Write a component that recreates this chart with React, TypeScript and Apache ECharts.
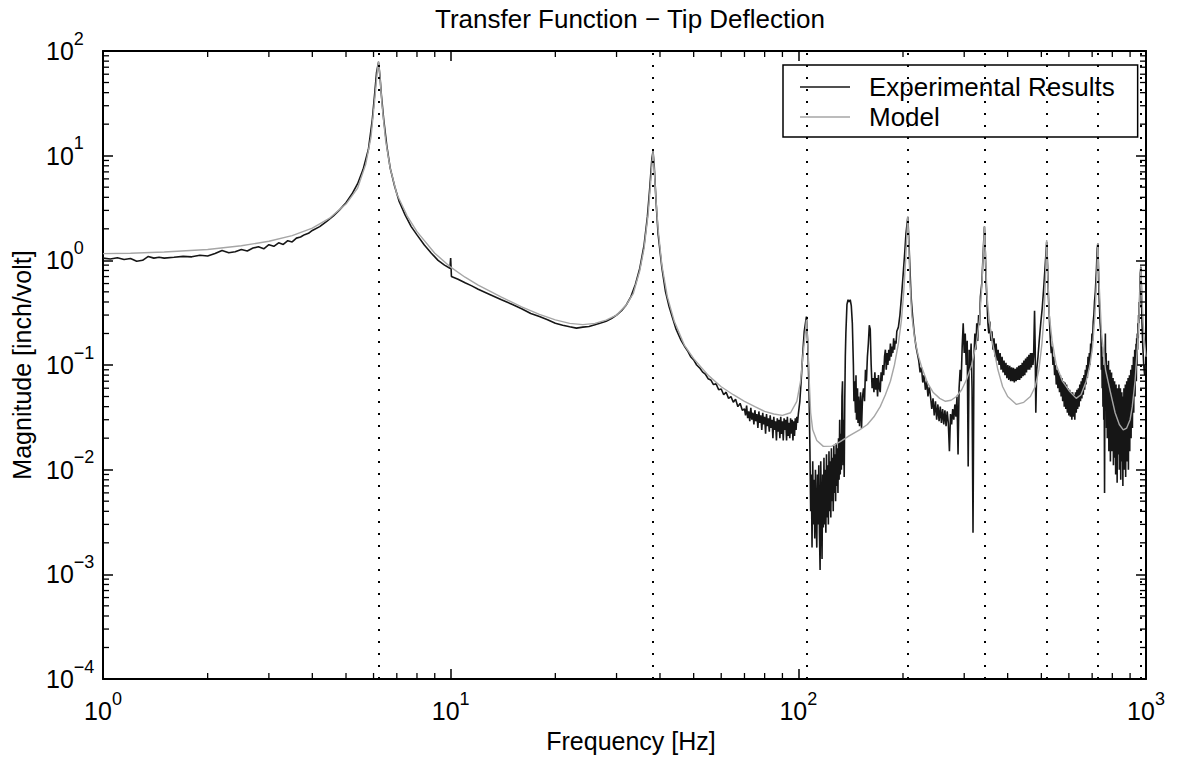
import React, { useEffect, useRef } from 'react';
import * as echarts from 'echarts';

const TITLE = 'Transfer Function \u2212 Tip Deflection';
const X_NAME = 'Frequency [Hz]';
const Y_NAME = 'Magnitude [inch/volt]';
const SERIES_NAMES = ['Experimental Results', 'Model'];

// axis decades (tick labels are 10^exponent)
const X_TICK_VALUES = [1, 10, 100, 1000];
const Y_TICK_VALUES = [1e-4, 1e-3, 1e-2, 1e-1, 1, 10, 100];
const MINOR_MULTIPLIERS = [2, 3, 4, 5, 6, 7, 8, 9];

// resonance markers (dotted vertical lines), Hz
const RESONANCES = [6.2, 38.2, 105.5, 206.5, 343, 518, 727, 967];

// Experimental results: [frequency Hz, magnitude inch/volt]
const EXP_1_TO_10: [number, number][] = [
  [1.0, 1.05], [1.05, 1.03], [1.1, 1.06], [1.15, 1.02], [1.2, 1.04], [1.25, 0.98], [1.3, 1.0], [1.35, 1.09],
  [1.4, 1.05], [1.45, 1.07], [1.5, 1.05], [1.6, 1.07], [1.7, 1.09], [1.8, 1.08], [1.9, 1.12], [2.0, 1.1],
  [2.1, 1.16], [2.2, 1.24], [2.3, 1.18], [2.4, 1.21], [2.5, 1.27], [2.6, 1.23], [2.7, 1.31], [2.8, 1.35],
  [2.9, 1.29], [3.0, 1.41], [3.1, 1.36], [3.2, 1.47], [3.3, 1.42], [3.4, 1.54], [3.5, 1.5], [3.6, 1.63],
  [3.7, 1.67], [3.8, 1.76], [3.9, 1.81], [4.0, 1.93], [4.2, 2.1], [4.4, 2.36], [4.6, 2.66], [4.8, 3.05],
  [5.0, 3.55], [5.2, 4.3], [5.4, 5.4], [5.6, 7.4], [5.8, 11.5], [5.95, 22], [6.05, 40], [6.12, 62],
  [6.2, 78], [6.26, 58], [6.32, 38], [6.42, 22], [6.55, 12.5], [6.7, 7.6], [6.9, 5.1], [7.1, 3.7],
  [7.4, 2.7], [7.7, 2.1], [8.0, 1.75], [8.4, 1.4], [8.8, 1.17], [9.2, 1.0], [9.6, 0.9], [9.95, 0.84],
];
const EXP_10_TO_100: [number, number][] = [
  [10.0, 1.05], [10.05, 0.7], [10.5, 0.66], [11.0, 0.61], [11.5, 0.57], [12.0, 0.53], [13.0, 0.47], [14.0, 0.42],
  [15.0, 0.38], [16.0, 0.345], [17.0, 0.31], [18.0, 0.29], [19.0, 0.27], [20.0, 0.25], [21.0, 0.24], [22.0, 0.232],
  [23.0, 0.225], [24.0, 0.23], [25.0, 0.233], [26.0, 0.242], [27.0, 0.252], [28.0, 0.262], [29.0, 0.278], [30.0, 0.3],
  [31.0, 0.33], [32.0, 0.375], [33.0, 0.45], [34.0, 0.59], [35.0, 0.84], [36.0, 1.4], [36.8, 2.6], [37.4, 5.0],
  [37.9, 9.3], [38.2, 11.0], [38.5, 8.0], [39.0, 3.5], [39.5, 1.8], [40.5, 0.85], [41.5, 0.5], [42.5, 0.36],
  [43.5, 0.28], [44.5, 0.22], [46.0, 0.172], [47.0, 0.152], [48.0, 0.137], [49.0, 0.12], [50.0, 0.112], [51.0, 0.1],
  [52.0, 0.094], [53.0, 0.086], [54.0, 0.082], [55.0, 0.074], [56.0, 0.072], [57.0, 0.065], [58.0, 0.066], [59.0, 0.058],
  [60.0, 0.059], [61.0, 0.052], [62.0, 0.055], [63.0, 0.048], [64.0, 0.05], [65.0, 0.044], [66.0, 0.047], [67.0, 0.04],
  [68.0, 0.043], [69.0, 0.037], [70.0, 0.038], [70.5, 0.033], [71.0, 0.041], [71.5, 0.031], [72.0, 0.036], [72.5, 0.029],
  [73.0, 0.039], [73.5, 0.03], [74.0, 0.035], [74.5, 0.027], [75.0, 0.037], [75.5, 0.029], [76.0, 0.034], [76.5, 0.025],
  [77.0, 0.036], [77.5, 0.028], [78.0, 0.033], [78.5, 0.024], [79.0, 0.035], [79.5, 0.027], [80.0, 0.032], [80.5, 0.022],
  [81.0, 0.034], [81.5, 0.026], [82.0, 0.031], [82.5, 0.023], [83.0, 0.033], [83.5, 0.025], [84.0, 0.03], [84.5, 0.02],
  [85.0, 0.032], [85.5, 0.024], [86.0, 0.029], [86.5, 0.019], [87.0, 0.031], [87.5, 0.023], [88.0, 0.03], [88.5, 0.02],
  [89.0, 0.032], [89.5, 0.022], [90.0, 0.029], [90.5, 0.019], [91.0, 0.031], [91.5, 0.024], [92.0, 0.03], [92.5, 0.019],
  [93.0, 0.032], [93.5, 0.021], [94.0, 0.028], [94.5, 0.02], [95.0, 0.031], [95.5, 0.022], [96.0, 0.03], [96.5, 0.019],
  [97.0, 0.029], [97.5, 0.021], [98.0, 0.031], [98.5, 0.024], [99.0, 0.032], [99.5, 0.028],
];
const EXP_100_TO_206: [number, number][] = [
  [100.0, 0.034], [101.0, 0.045], [102.0, 0.075], [103.0, 0.13], [104.0, 0.21], [105.5, 0.29], [106.5, 0.15], [107.3, 0.06],
  [108.0, 0.015], [108.5, 0.004], [109.0, 0.009], [109.5, 0.0018], [110.0, 0.012], [110.5, 0.003], [111.0, 0.008], [111.5, 0.0022],
  [112.0, 0.01], [112.5, 0.0035], [113.0, 0.0018], [113.5, 0.009], [114.0, 0.003], [114.5, 0.011], [115.0, 0.0025], [115.5, 0.0011],
  [116.0, 0.012], [116.5, 0.004], [117.0, 0.0014], [117.5, 0.009], [118.0, 0.0028], [118.5, 0.013], [119.0, 0.003], [119.5, 0.01],
  [120.0, 0.0025], [120.5, 0.014], [121.0, 0.0035], [121.5, 0.011], [122.0, 0.003], [122.5, 0.015], [123.0, 0.004], [123.5, 0.012],
  [124.0, 0.0035], [124.5, 0.016], [125.0, 0.005], [125.5, 0.013], [126.0, 0.004], [126.5, 0.017], [127.0, 0.006], [127.5, 0.014],
  [128.0, 0.005], [128.5, 0.018], [129.0, 0.007], [129.5, 0.016], [130.0, 0.006], [130.5, 0.02], [131.0, 0.008], [131.5, 0.03],
  [132.0, 0.009], [132.5, 0.022], [133.0, 0.01], [133.5, 0.05], [134.0, 0.07], [134.5, 0.011], [135.0, 0.03], [135.5, 0.0085],
  [136.0, 0.045], [136.5, 0.12], [137.0, 0.2], [138.0, 0.38], [139.0, 0.42], [140.0, 0.4], [141.0, 0.42], [142.0, 0.37],
  [143.0, 0.25], [144.0, 0.1], [144.5, 0.045], [145.0, 0.07], [146.0, 0.035], [146.5, 0.08], [147.0, 0.03], [148.0, 0.06],
  [148.5, 0.028], [149.0, 0.05], [150.0, 0.026], [151.0, 0.055], [152.0, 0.025], [153.0, 0.05], [154.0, 0.06], [155.0, 0.045],
  [156.0, 0.09], [157.0, 0.07], [158.0, 0.12], [159.0, 0.16], [160.0, 0.24], [161.0, 0.22], [162.0, 0.1], [163.0, 0.06],
  [164.0, 0.075], [165.0, 0.055], [166.0, 0.085], [167.0, 0.058], [168.0, 0.075], [169.0, 0.05], [170.0, 0.08], [171.0, 0.06],
  [172.0, 0.055], [173.0, 0.085], [174.0, 0.07], [175.0, 0.1], [176.0, 0.08], [177.0, 0.12], [178.0, 0.14], [179.0, 0.09],
  [180.0, 0.13], [181.0, 0.1], [182.0, 0.14], [183.0, 0.11], [184.0, 0.16], [185.0, 0.12], [186.0, 0.15], [187.0, 0.13],
  [188.0, 0.18], [189.0, 0.14], [190.0, 0.17], [191.0, 0.16], [192.0, 0.21], [194.0, 0.23], [196.0, 0.3], [198.0, 0.45],
  [200.0, 0.7], [202.0, 1.1], [204.0, 1.8],
];
const EXP_206_TO_518: [number, number][] = [
  [206.5, 2.6], [208.0, 1.5], [209.5, 0.8], [211.0, 0.45], [213.0, 0.3], [215.5, 0.2], [218.0, 0.15], [222.0, 0.11],
  [224.0, 0.085], [226.0, 0.095], [228.0, 0.068], [230.0, 0.08], [232.0, 0.058], [234.0, 0.07], [236.0, 0.05], [238.0, 0.062],
  [240.0, 0.05], [242.0, 0.038], [244.0, 0.048], [246.0, 0.033], [248.0, 0.045], [250.0, 0.03], [252.0, 0.042], [254.0, 0.029],
  [256.0, 0.04], [258.0, 0.028], [260.0, 0.038], [262.0, 0.027], [264.0, 0.037], [266.0, 0.026], [268.0, 0.036], [270.0, 0.028],
  [272.0, 0.015], [274.0, 0.034], [276.0, 0.027], [278.0, 0.038], [280.0, 0.03], [282.0, 0.042], [284.0, 0.032], [286.0, 0.05],
  [288.0, 0.014], [290.0, 0.06], [292.0, 0.09], [294.0, 0.07], [296.0, 0.15], [298.0, 0.25], [300.0, 0.13], [302.0, 0.2],
  [304.0, 0.1], [306.0, 0.17], [308.0, 0.0107], [310.0, 0.14], [312.0, 0.09], [314.0, 0.16], [316.0, 0.06], [318.0, 0.0025],
  [320.0, 0.12], [322.0, 0.2], [324.0, 0.14], [326.0, 0.25], [328.0, 0.17], [330.0, 0.3], [332.0, 0.24], [334.0, 0.45],
  [337.0, 0.6], [339.0, 0.9], [341.0, 1.4], [343.0, 2.1], [345.0, 1.2], [347.0, 0.6], [349.0, 0.4], [351.0, 0.25],
  [353.0, 0.2], [355.5, 0.26], [358.0, 0.17], [360.5, 0.21], [363.0, 0.14], [365.5, 0.18], [368.0, 0.12], [370.5, 0.16],
  [373.0, 0.11], [375.5, 0.14], [378.0, 0.1], [380.5, 0.13], [383.0, 0.09], [385.5, 0.12], [388.0, 0.085], [390.5, 0.11],
  [393.0, 0.08], [395.5, 0.105], [398.0, 0.075], [400.5, 0.1], [403.0, 0.072], [405.5, 0.098], [408.0, 0.07], [410.5, 0.095],
  [413.0, 0.07], [415.5, 0.094], [418.0, 0.068], [420.5, 0.092], [423.0, 0.07], [425.5, 0.095], [428.0, 0.072], [430.5, 0.098],
  [433.0, 0.072], [435.5, 0.1], [438.0, 0.075], [440.5, 0.105], [443.0, 0.078], [445.5, 0.11], [448.0, 0.08], [450.5, 0.115],
  [453.0, 0.085], [455.5, 0.12], [458.0, 0.09], [460.5, 0.125], [463.0, 0.09], [465.5, 0.13], [468.0, 0.095], [470.5, 0.13],
  [473.0, 0.1], [475.0, 0.12], [478.0, 0.33], [480.0, 0.15], [482.0, 0.035], [485.0, 0.09], [489.0, 0.12], [493.0, 0.17],
  [498.0, 0.25], [503.0, 0.35], [508.0, 0.55], [513.0, 0.9],
];
const EXP_518_TO_1000: [number, number][] = [
  [518.0, 1.5], [521.0, 0.9], [524.0, 0.45], [528.0, 0.25], [531.0, 0.17], [534.0, 0.13], [537.0, 0.15], [540.0, 0.1],
  [543.0, 0.12], [546.0, 0.08], [549.0, 0.1], [552.0, 0.065], [555.0, 0.09], [558.0, 0.06], [561.0, 0.085], [564.0, 0.055],
  [567.0, 0.08], [570.0, 0.05], [573.0, 0.075], [576.0, 0.045], [579.0, 0.07], [582.0, 0.04], [585.0, 0.068], [588.0, 0.038],
  [591.0, 0.065], [594.0, 0.035], [597.0, 0.06], [600.0, 0.033], [603.0, 0.058], [606.0, 0.032], [609.0, 0.055], [612.0, 0.03],
  [615.0, 0.055], [618.0, 0.032], [621.0, 0.052], [624.0, 0.03], [627.0, 0.055], [630.0, 0.035], [633.0, 0.058], [636.0, 0.038],
  [639.0, 0.06], [642.0, 0.04], [645.0, 0.065], [648.0, 0.045], [651.0, 0.07], [654.0, 0.048], [657.0, 0.075], [660.0, 0.052],
  [663.0, 0.08], [666.0, 0.058], [669.0, 0.09], [672.0, 0.065], [675.0, 0.1], [678.0, 0.075], [681.0, 0.12], [684.0, 0.09],
  [687.0, 0.13], [690.0, 0.1], [693.0, 0.16], [696.0, 0.13], [699.0, 0.2], [702.0, 0.17], [705.0, 0.26], [708.0, 0.3],
  [711.0, 0.4], [715.0, 0.5], [720.0, 0.8], [724.0, 1.3], [727.0, 1.45], [730.0, 0.8], [734.0, 0.4], [738.0, 0.25],
  [742.0, 0.2], [744.0, 0.09], [746.0, 0.15], [748.0, 0.06], [750.0, 0.12], [752.0, 0.04], [754.0, 0.1], [756.0, 0.03],
  [758.0, 0.08], [760.0, 0.006], [762.0, 0.09], [764.0, 0.2], [766.0, 0.05], [768.0, 0.13], [770.0, 0.025], [772.0, 0.1],
  [774.0, 0.02], [776.0, 0.08], [778.0, 0.035], [780.0, 0.11], [782.0, 0.015], [784.0, 0.08], [786.0, 0.03], [788.0, 0.09],
  [790.0, 0.012], [792.0, 0.07], [794.0, 0.025], [796.0, 0.085], [798.0, 0.015], [800.0, 0.06], [802.0, 0.02], [804.0, 0.075],
  [806.0, 0.011], [808.0, 0.055], [810.0, 0.018], [812.0, 0.07], [814.0, 0.013], [816.0, 0.05], [818.0, 0.009], [820.0, 0.065],
  [822.0, 0.016], [824.0, 0.045], [826.0, 0.0075], [828.0, 0.06], [830.0, 0.014], [832.0, 0.05], [834.0, 0.02], [836.0, 0.065],
  [838.0, 0.01], [840.0, 0.045], [842.0, 0.018], [844.0, 0.06], [846.0, 0.008], [848.0, 0.05], [850.0, 0.015], [852.0, 0.055],
  [854.0, 0.012], [856.0, 0.04], [858.0, 0.007], [860.0, 0.05], [862.0, 0.018], [864.0, 0.06], [866.0, 0.01], [868.0, 0.045],
  [870.0, 0.02], [872.0, 0.065], [874.0, 0.0085], [876.0, 0.05], [878.0, 0.016], [880.0, 0.07], [882.0, 0.012], [884.0, 0.055],
  [886.0, 0.022], [888.0, 0.075], [890.0, 0.01], [892.0, 0.06], [894.0, 0.025], [896.0, 0.08], [898.0, 0.015], [900.0, 0.065],
  [902.0, 0.03], [904.0, 0.09], [906.0, 0.02], [908.0, 0.07], [910.0, 0.035], [912.0, 0.1], [914.0, 0.025], [916.0, 0.08],
  [918.0, 0.045], [920.0, 0.12], [922.0, 0.035], [924.0, 0.1], [926.0, 0.06], [928.0, 0.14], [930.0, 0.05], [932.0, 0.12],
  [934.0, 0.08], [936.0, 0.16], [938.0, 0.07], [940.0, 0.18], [942.0, 0.1], [944.0, 0.2], [946.0, 0.14], [948.0, 0.25],
  [950.0, 0.18], [952.0, 0.3], [954.0, 0.25], [956.0, 0.4], [958.0, 0.35], [960.0, 0.55], [963.0, 0.75], [967.0, 0.87],
  [970.0, 0.5], [974.0, 0.25], [979.0, 0.15], [985.0, 0.1], [991.0, 0.08], [996.0, 0.1], [1000.0, 0.09],
];

// Model: [frequency Hz, magnitude inch/volt]
const MODEL: [number, number][] = [
  [1.0, 1.16], [1.2, 1.17], [1.5, 1.2], [2.0, 1.27], [2.5, 1.38], [3.0, 1.52], [3.5, 1.72], [4.0, 2.03],
  [4.5, 2.55], [5.0, 3.45], [5.4, 4.9], [5.7, 8.3], [5.9, 15], [6.05, 35], [6.15, 63], [6.2, 80],
  [6.25, 62], [6.35, 30], [6.5, 14], [6.7, 7.6], [7.0, 4.3], [7.5, 2.65], [8.0, 1.88], [9.0, 1.17],
  [10.0, 0.86], [11.0, 0.69], [12.0, 0.58], [14.0, 0.445], [16.0, 0.36], [18.0, 0.305], [20.0, 0.27], [22.0, 0.25],
  [24.0, 0.243], [26.0, 0.25], [28.0, 0.268], [30.0, 0.3], [32.0, 0.375], [33.5, 0.48], [35.0, 0.8], [36.0, 1.3],
  [37.0, 2.8], [37.6, 5.5], [38.0, 9.0], [38.2, 11.0], [38.5, 7.5], [39.0, 3.6], [39.5, 2.0], [40.5, 0.9],
  [42.0, 0.45], [44.0, 0.26], [47.0, 0.155], [50.0, 0.115], [55.0, 0.08], [60.0, 0.062], [65.0, 0.052], [70.0, 0.045],
  [75.0, 0.04], [80.0, 0.036], [85.0, 0.034], [90.0, 0.033], [95.0, 0.035], [99.0, 0.045], [101.5, 0.07], [103.0, 0.12],
  [104.5, 0.19], [105.5, 0.27], [106.5, 0.16], [107.5, 0.07], [108.5, 0.035], [110.0, 0.024], [113.0, 0.019], [118.0, 0.0167],
  [125.0, 0.0168], [132.0, 0.0185], [140.0, 0.021], [150.0, 0.024], [158.0, 0.027], [165.0, 0.032], [172.0, 0.04], [178.0, 0.052],
  [184.0, 0.07], [189.0, 0.1], [194.0, 0.16], [198.0, 0.27], [201.0, 0.5], [203.5, 1.0], [205.3, 1.8], [206.5, 2.6],
  [207.8, 1.5], [209.5, 0.6], [212.0, 0.3], [216.0, 0.18], [221.0, 0.125], [226.0, 0.097], [235.0, 0.068], [244.0, 0.055],
  [255.0, 0.048], [265.0, 0.045], [275.0, 0.046], [285.0, 0.05], [295.0, 0.058], [305.0, 0.073], [315.0, 0.1], [325.0, 0.16],
  [332.0, 0.27], [337.0, 0.55], [340.5, 1.2], [343.0, 2.1], [345.5, 1.1], [349.0, 0.45], [355.0, 0.25], [361.0, 0.17],
  [375.0, 0.09], [387.0, 0.062], [400.0, 0.05], [424.0, 0.042], [445.0, 0.044], [465.0, 0.05], [480.0, 0.062], [492.0, 0.09],
  [502.0, 0.16], [509.0, 0.3], [514.0, 0.7], [518.0, 1.56], [521.0, 0.8], [527.0, 0.3], [537.0, 0.17], [552.0, 0.1],
  [575.0, 0.07], [603.0, 0.056], [630.0, 0.048], [650.0, 0.052], [673.0, 0.07], [690.0, 0.1], [702.0, 0.15], [713.0, 0.3],
  [721.0, 0.65], [727.0, 1.46], [733.0, 0.6], [745.0, 0.2], [765.0, 0.09], [790.0, 0.055], [815.0, 0.035], [838.0, 0.027],
  [860.0, 0.024], [880.0, 0.025], [900.0, 0.03], [913.0, 0.04], [930.0, 0.07], [945.0, 0.15], [955.0, 0.3], [962.0, 0.6],
  [967.0, 0.86], [972.0, 0.5], [985.0, 0.2], [1000.0, 0.12],
];

const FONT = "'Liberation Sans', Arial, Helvetica, sans-serif";

function expLabel(v: number): string {
  const e = Math.round(Math.log10(v));
  return `{b|10}{s|${e < 0 ? '\u2212' + -e : e}}`;
}

export default function App() {
  const ref = useRef<HTMLDivElement>(null);

  useEffect(() => {
    if (!ref.current) return;
    const chart = echarts.init(ref.current, null, { renderer: 'svg' });

    const expData = [
      ...EXP_1_TO_10,
      ...EXP_10_TO_100,
      ...EXP_100_TO_206,
      ...EXP_206_TO_518,
      ...EXP_518_TO_1000,
    ];

    const xMin = X_TICK_VALUES[0];
    const xMax = X_TICK_VALUES[X_TICK_VALUES.length - 1];
    const yMin = Y_TICK_VALUES[0];
    const yMax = Y_TICK_VALUES[Y_TICK_VALUES.length - 1];

    const xMinor: number[] = [];
    X_TICK_VALUES.slice(0, -1).forEach((d) => MINOR_MULTIPLIERS.forEach((m) => xMinor.push(d * m)));
    const yMinor: number[] = [];
    Y_TICK_VALUES.slice(0, -1).forEach((d) => MINOR_MULTIPLIERS.forEach((m) => yMinor.push(d * m)));

    const rich = {
      b: { fontSize: 25, lineHeight: 43, fontFamily: FONT, color: '#000', verticalAlign: 'middle' },
      s: { fontSize: 18, lineHeight: 18, fontFamily: FONT, color: '#000', verticalAlign: 'top' },
    };

    const axisCommon = {
      type: 'log' as const,
      logBase: 10,
      splitLine: { show: false },
      axisLine: { show: true, lineStyle: { color: '#000', width: 2 } },
      axisTick: { show: true, inside: true, length: 10, lineStyle: { color: '#000', width: 1.5 } },
    };

    const option: any = {
      animation: false,
      backgroundColor: '#fff',
      textStyle: { fontFamily: FONT },
      title: {
        text: TITLE,
        left: 435,
        top: 6,
        padding: 0,
        textStyle: { fontSize: 26, lineHeight: 26, fontWeight: 'normal', color: '#000', fontFamily: FONT },
      },
      legend: {
        orient: 'vertical',
        left: 783,
        top: 65,
        padding: [7, 23, 5, 17],
        itemGap: 0,
        itemWidth: 50,
        itemHeight: 1.5,
        icon: 'rect',
        borderColor: '#000',
        borderWidth: 1.5,
        backgroundColor: '#fff',
        selectedMode: false,
        textStyle: { fontSize: 26, lineHeight: 30, color: '#000', fontFamily: FONT, padding: [0, 0, 0, 14] },
        data: SERIES_NAMES,
      },
      grid: { left: 103, right: 32, top: 51, bottom: 87, containLabel: false },
      xAxis: [
        {
          ...axisCommon,
          position: 'bottom',
          min: xMin,
          max: xMax,
          name: X_NAME,
          nameLocation: 'middle',
          nameGap: 47,
          nameTextStyle: { fontSize: 25, lineHeight: 26, color: '#000', fontFamily: FONT, padding: [0, 0, 0, 13] },
          axisLabel: { show: true, margin: 10.5, formatter: expLabel, rich, showMinLabel: true, showMaxLabel: true },
        },
        {
          ...axisCommon,
          position: 'top',
          min: xMin,
          max: xMax,
          axisLabel: { show: false },
        },
      ],
      yAxis: [
        {
          ...axisCommon,
          position: 'left',
          min: yMin,
          max: yMax,
          name: Y_NAME,
          nameLocation: 'middle',
          nameGap: 48,
          nameTextStyle: { fontSize: 25, lineHeight: 26, color: '#000', fontFamily: FONT },
          axisLabel: { show: true, margin: 57, align: 'left', formatter: expLabel, rich, showMinLabel: true, showMaxLabel: true },
        },
        {
          ...axisCommon,
          position: 'right',
          min: yMin,
          max: yMax,
          axisLabel: { show: false },
        },
      ],
      series: [
        {
          name: SERIES_NAMES[0],
          type: 'line',
          data: expData,
          showSymbol: false,
          symbol: 'none',
          color: '#161616',
          itemStyle: { color: '#161616' },
          lineStyle: { color: '#161616', width: 1.6 },
          z: 2,
        },
        {
          name: SERIES_NAMES[1],
          type: 'line',
          data: MODEL,
          showSymbol: false,
          symbol: 'none',
          color: '#a6a6a6',
          itemStyle: { color: '#a6a6a6' },
          lineStyle: { color: '#a6a6a6', width: 1.4 },
          z: 3,
          markLine: {
            silent: true,
            symbol: ['none', 'none'],
            label: { show: false },
            lineStyle: { color: '#000', width: 2, type: [2, 10] },
            data: RESONANCES.map((f) => ({ xAxis: f })),
          },
        },
        {
          type: 'custom',
          coordinateSystem: 'cartesian2d',
          silent: true,
          z: 5,
          clip: false,
          data: [[1, 1]],
          renderItem: (params: any, api: any) => {
            const cs = params.coordSys;
            const left = cs.x;
            const top = cs.y;
            const right = cs.x + cs.width;
            const bottom = cs.y + cs.height;
            const L = 6;
            const style = { stroke: '#000', lineWidth: 1.3 };
            const children: any[] = [];
            xMinor.forEach((v) => {
              const px = api.coord([v, 1])[0];
              children.push({ type: 'line', shape: { x1: px, y1: bottom, x2: px, y2: bottom - L }, style });
              children.push({ type: 'line', shape: { x1: px, y1: top, x2: px, y2: top + L }, style });
            });
            yMinor.forEach((v) => {
              const py = api.coord([1, v])[1];
              children.push({ type: 'line', shape: { x1: left, y1: py, x2: left + L, y2: py }, style });
              children.push({ type: 'line', shape: { x1: right, y1: py, x2: right - L, y2: py }, style });
            });
            return { type: 'group', children };
          },
        },
      ],
    };

    chart.setOption(option);
    return () => chart.dispose();
  }, []);

  return (
    <div
      ref={ref}
      style={{ position: 'fixed', left: 0, top: 0, width: 1178, height: 766, background: '#fff' }}
    />
  );
}
